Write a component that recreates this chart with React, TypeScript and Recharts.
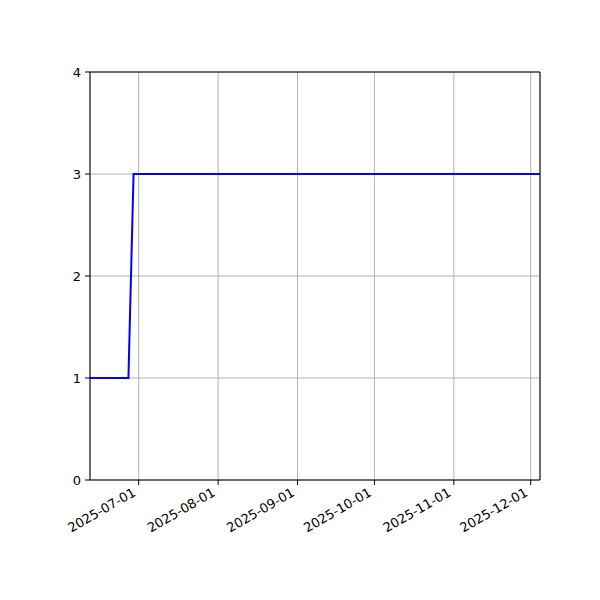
import React from 'react';
import { LineChart, Line, XAxis, YAxis, CartesianGrid, ReferenceLine } from 'recharts';

const dates = ['2025-06-12', '2025-06-27', '2025-06-29', '2025-12-04T15:00:00'];
const values = [1, 1, 3, 3];
const xTickDates = ['2025-07-01', '2025-08-01', '2025-09-01', '2025-10-01', '2025-11-01', '2025-12-01'];
const yTicks = [0, 1, 2, 3, 4];

const toTs = (d: string) => new Date(d.length > 10 ? d + 'Z' : d + 'T00:00:00Z').getTime();

const data = dates.map((d, i) => ({ t: toTs(d), v: values[i] }));
const xTicks = xTickDates.map(toTs);
const xMax = data[data.length - 1].t;
const yMax = yTicks[yTicks.length - 1];

const fmt = (ts: number) => new Date(ts).toISOString().slice(0, 10);

const FONT = 'DejaVu Sans, sans-serif';

const XTick = (props: any) => {
  const { x, y, payload } = props;
  const tx = x - 2;
  const ty = y + 8;
  return (
    <text
      x={tx}
      y={ty}
      textAnchor="end"
      transform={`rotate(-30, ${tx}, ${ty})`}
      fontFamily={FONT}
      fontSize={13}
      fill="#000"
    >
      {fmt(payload.value)}
    </text>
  );
};

const YTick = (props: any) => {
  const { x, y, payload } = props;
  return (
    <text x={x - 2} y={y} dy={5} textAnchor="end" fontFamily={FONT} fontSize={13} fill="#000">
      {payload.value}
    </text>
  );
};

export default function App() {
  return (
    <div style={{ position: 'absolute', left: 0, top: 0, width: 600, height: 600, background: '#fff' }}>
      <LineChart width={600} height={600} data={data} margin={{ top: 72, right: 60, bottom: 0, left: 40 }}>
        <CartesianGrid stroke="#b0b0b0" strokeWidth={1} horizontal vertical />
        <XAxis
          dataKey="t"
          type="number"
          scale="time"
          domain={['dataMin', 'dataMax']}
          ticks={xTicks}
          tick={<XTick />}
          tickLine={{ stroke: '#000', strokeWidth: 1 }}
          tickSize={5}
          axisLine={{ stroke: '#000', strokeWidth: 1 }}
          height={120}
          interval={0}
        />
        <YAxis
          type="number"
          domain={[0, 4]}
          ticks={yTicks}
          tick={<YTick />}
          tickLine={{ stroke: '#000', strokeWidth: 1 }}
          tickSize={5}
          axisLine={{ stroke: '#000', strokeWidth: 1 }}
          width={50}
          interval={0}
        />
        <ReferenceLine y={yMax} stroke="#000" strokeWidth={1} />
        <ReferenceLine x={xMax} stroke="#000" strokeWidth={1} />
        <Line
          dataKey="v"
          stroke="#0000ff"
          strokeWidth={2}
          dot={false}
          type="linear"
          isAnimationActive={false}
        />
      </LineChart>
    </div>
  );
}
